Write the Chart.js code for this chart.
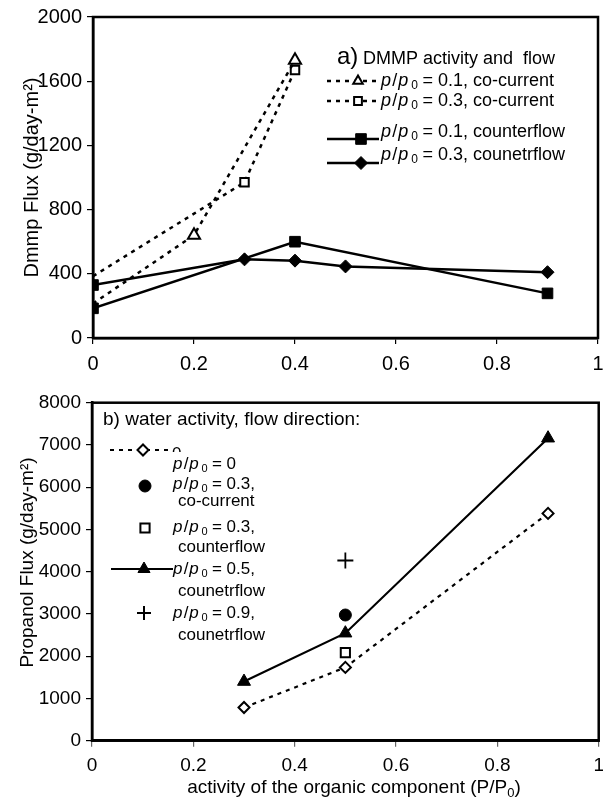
<!DOCTYPE html>
<html>
<head>
<meta charset="utf-8">
<title>DMMP and propanol flux</title>
<script src="https://cdn.jsdelivr.net/npm/chart.js@4.4.1/dist/chart.umd.min.js"></script>
<style>
  html, body { margin: 0; padding: 0; background: #fff; overflow: hidden; }
  #page { position: relative; width: 603px; height: 800px; overflow: hidden; background: #fff; }
  #panelA { position: absolute; left: 0; top: 0; }
  #panelB { position: absolute; left: 0; top: 380px; }
</style>
</head>
<body>
<div id="page">
  <canvas id="panelA" width="612" height="380"></canvas>
  <canvas id="panelB" width="612" height="420"></canvas>
</div>
<script>
const FONT = '"Liberation Sans", Arial, Helvetica, sans-serif';

// shared x axis: activity of the organic component
const activityTicks = [0, 0.2, 0.4, 0.6, 0.8, 1];

// a) DMMP flux
const dmmpTicks = [0, 400, 800, 1200, 1600, 2000];
const dmmpCo01X = [0, 0.2, 0.4];
const dmmpCo01Y = [215, 640, 1730];
const dmmpCo03X = [0, 0.3, 0.4];
const dmmpCo03Y = [385, 970, 1670];
const dmmpCf01X = [0, 0.4, 0.9];
const dmmpCf01Y = [185, 600, 278];
const dmmpCf03X = [0, 0.3, 0.4, 0.5, 0.9];
const dmmpCf03Y = [330, 490, 482, 446, 410];
const dmmpLabels = ['= 0.1, co-current', '= 0.3, co-current', '= 0.1, counterflow', '= 0.3, counetrflow'];

// b) propanol flux
const propTicks = [0, 1000, 2000, 3000, 4000, 5000, 6000, 7000, 8000];
const propW0X = [0.3, 0.5, 0.9];
const propW0Y = [785, 1735, 5380];
const propCo03X = [0.5];
const propCo03Y = [2975];
const propCf03X = [0.5];
const propCf03Y = [2085];
const propCf05X = [0.3, 0.5, 0.9];
const propCf05Y = [1400, 2545, 7160];
const propCf09X = [0.5];
const propCf09Y = [4265];
const propLabels = [['= 0'], ['= 0.3,', 'co-current'], ['= 0.3,', 'counterflow'], ['= 0.5,', 'counetrflow'], ['= 0.9,', 'counetrflow']];

const pts = (xs, ys) => xs.map((x, i) => ({ x: x, y: ys[i] }));
const fixedTicks = vals => scale => { scale.ticks = vals.map(v => ({ value: v })); };

Chart.defaults.font.family = FONT;
Chart.defaults.color = '#000';

// --- drawing helpers for the hand-made legends ---
function marker(ctx, style, r, x, y, fill, bw) {
  ctx.save();
  ctx.setLineDash([]);
  ctx.fillStyle = fill;
  ctx.strokeStyle = '#000';
  ctx.lineWidth = bw;
  Chart.helpers.drawPoint(ctx, { pointStyle: style, radius: r, borderWidth: bw, rotation: 0 }, x, y);
  ctx.restore();
}

function sample(ctx, x1, x2, y, dashed, lw) {
  ctx.save();
  ctx.strokeStyle = '#000';
  ctx.lineWidth = lw;
  ctx.setLineDash(dashed ? [4, 5] : []);
  ctx.beginPath();
  ctx.moveTo(x1, y);
  ctx.lineTo(x2, y);
  ctx.stroke();
  ctx.restore();
}

// "p / p0" with italic p's and a subscript zero, then the rest of the label
function ppText(ctx, x, y, rest, size) {
  const it = 'italic ' + size + 'px ' + FONT;
  const up = size + 'px ' + FONT;
  const sub = Math.round(size * 0.65) + 'px ' + FONT;
  ctx.save();
  ctx.fillStyle = '#000';
  ctx.textAlign = 'left';
  ctx.textBaseline = 'middle';
  ctx.font = it; ctx.fillText('p', x, y); x += ctx.measureText('p').width + size * 0.07;
  ctx.font = up; ctx.fillText('/', x, y); x += ctx.measureText('/').width + size * 0.05;
  ctx.font = it; ctx.fillText('p', x, y); x += ctx.measureText('p').width + size * 0.17;
  ctx.font = sub; ctx.fillText('0', x, y + size * 0.28); x += ctx.measureText('0').width + size * 0.25;
  ctx.font = up; ctx.fillText(rest, x, y);
  ctx.restore();
}

const frame = {
  id: 'frame',
  afterDatasetsDraw(chart, args, opts) {
    const a = chart.chartArea, ctx = chart.ctx;
    ctx.save();
    ctx.strokeStyle = '#000';
    ctx.lineWidth = opts.width || 2.5;
    ctx.strokeRect(a.left, a.top, a.right - a.left, a.bottom - a.top);
    ctx.restore();
  }
};

function axisScales(xTickVals, yTickVals, yMax, yWidth, xHeight, tickSize, yTitle, yTitlePad, xTickColor) {
  return {
    x: {
      type: 'linear', min: 0, max: 1,
      afterBuildTicks: fixedTicks(xTickVals),
      afterFit: s => { s.height = xHeight; },
      ticks: { font: { size: tickSize }, color: '#000', padding: 8, maxRotation: 0, autoSkip: false,
               callback: v => String(v) },
      grid: { drawOnChartArea: false, drawTicks: true, tickLength: 6, color: xTickColor, lineWidth: 1.2 },
      border: { display: true, color: '#000', width: 2.5 }
    },
    y: {
      type: 'linear', min: 0, max: yMax,
      afterBuildTicks: fixedTicks(yTickVals),
      afterFit: s => { s.width = yWidth; },
      ticks: { font: { size: tickSize }, color: '#000', padding: 5, autoSkip: false,
               callback: v => String(v) },
      grid: { drawOnChartArea: false, drawTicks: true, tickLength: 6, color: '#000', lineWidth: 1.2 },
      border: { display: true, color: '#000', width: 2.5 },
      title: { display: !!yTitle, text: yTitle, font: { size: tickSize }, color: '#000',
               padding: { top: yTitlePad, bottom: 0 } }
    }
  };
}

const baseOptions = {
  responsive: false,
  animation: false,
  devicePixelRatio: 1,
  events: [],
  plugins: { legend: { display: false }, tooltip: { enabled: false } }
};

// ---------- a) DMMP activity and flow ----------
const legendA = {
  id: 'legendA',
  afterDraw(chart) {
    const ctx = chart.ctx;
    ctx.save();
    ctx.fillStyle = '#000';
    ctx.textAlign = 'left';
    ctx.textBaseline = 'alphabetic';
    ctx.font = '24px ' + FONT;
    ctx.fillText('a)', 337, 64);
    ctx.font = '18px ' + FONT;
    ctx.fillText('DMMP activity and  flow', 363, 64);
    ctx.restore();

    const rows = [
      { lineY: 81, textY: 81, dashed: true, style: 'triangle', fill: '#fff', r: 5.5, bw: 2 },
      { lineY: 101, textY: 101, dashed: true, style: 'rect', fill: '#fff', r: 5.5, bw: 2 },
      { lineY: 139, textY: 132, dashed: false, style: 'rect', fill: '#000', r: 7.5, bw: 1 },
      { lineY: 163, textY: 155, dashed: false, style: 'rectRot', fill: '#000', r: 6.5, bw: 1 }
    ];
    rows.forEach((row, i) => {
      sample(ctx, 327, 379, row.lineY, row.dashed, 2.5);
      marker(ctx, row.style, row.r, row.dashed ? 358 : 361, row.lineY, row.fill, row.bw);
      ppText(ctx, 381, row.textY, dmmpLabels[i], 18);
    });
  }
};

new Chart(document.getElementById('panelA'), {
  type: 'scatter',
  data: {
    datasets: [
      { data: pts(dmmpCo01X, dmmpCo01Y), showLine: true, borderColor: '#000', borderWidth: 2.5,
        borderDash: [4, 5], pointStyle: 'triangle', pointRadius: [0, 7, 7],
        pointBackgroundColor: '#fff', pointBorderColor: '#000', pointBorderWidth: 2 },
      { data: pts(dmmpCo03X, dmmpCo03Y), showLine: true, borderColor: '#000', borderWidth: 2.5,
        borderDash: [4, 5], pointStyle: 'rect', pointRadius: [0, 6, 6],
        pointBackgroundColor: '#fff', pointBorderColor: '#000', pointBorderWidth: 2 },
      { data: pts(dmmpCf01X, dmmpCf01Y), showLine: true, borderColor: '#000', borderWidth: 2.5,
        pointStyle: 'rect', pointRadius: 7.5,
        pointBackgroundColor: '#000', pointBorderColor: '#000', pointBorderWidth: 1 },
      { data: pts(dmmpCf03X, dmmpCf03Y), showLine: true, borderColor: '#000', borderWidth: 2.5,
        pointStyle: ['rect', 'rectRot', 'rectRot', 'rectRot', 'rectRot'], pointRadius: [7.5, 6.5, 6.5, 6.5, 6.5],
        pointBackgroundColor: '#000', pointBorderColor: '#000', pointBorderWidth: 1 }
    ]
  },
  options: Object.assign({}, baseOptions, {
    layout: { padding: { top: 17, right: 14, left: 0, bottom: 0 } },
    scales: axisScales(activityTicks, dmmpTicks, 2000, 93, 42, 20, 'Dmmp Flux (g/day-m\u00b2)', 20, '#000'),
    plugins: Object.assign({}, baseOptions.plugins, { frame: { width: 2.5 } })
  }),
  plugins: [frame, legendA]
});

// ---------- b) water activity, flow direction ----------
const legendB = {
  id: 'legendB',
  afterDraw(chart) {
    const ctx = chart.ctx;
    ctx.save();
    ctx.fillStyle = '#000';
    ctx.textAlign = 'left';
    ctx.textBaseline = 'middle';
    ctx.font = '19px ' + FONT;
    ctx.fillText('b) water activity, flow direction:', 103, 40);

    // stray "0" of the first entry, cut off by the row beneath it
    ctx.save();
    ctx.beginPath();
    ctx.rect(160, 60, 40, 12);
    ctx.clip();
    ctx.font = '17px ' + FONT;
    ctx.textBaseline = 'top';
    ctx.fillText('0', 172, 66);
    ctx.restore();

    // y axis title, set a little above the axis centre
    ctx.save();
    ctx.translate(28, 182.5);
    ctx.rotate(-Math.PI / 2);
    ctx.textAlign = 'center';
    ctx.font = '19px ' + FONT;
    ctx.fillText('Propanol Flux (g/day-m\u00b2)', 0, 0);
    ctx.restore();

    // x axis title with subscript
    const y = 408;
    const main = 'activity of the organic component (P/P';
    ctx.font = '19px ' + FONT;
    const wMain = ctx.measureText(main).width;
    ctx.font = '13px ' + FONT;
    const wSub = ctx.measureText('0').width;
    ctx.font = '19px ' + FONT;
    const wEnd = ctx.measureText(')').width;
    let x = 354 - (wMain + wSub + wEnd) / 2;
    ctx.fillText(main, x, y); x += wMain;
    ctx.font = '13px ' + FONT; ctx.fillText('0', x, y + 5); x += wSub;
    ctx.font = '19px ' + FONT; ctx.fillText(')', x, y);
    ctx.restore();

    sample(ctx, 110, 173, 70, true, 2.2);
    marker(ctx, 'rectRot', 5.5, 143, 70, '#fff', 2);
    marker(ctx, 'circle', 6, 145, 106, '#000', 1);
    marker(ctx, 'rect', 6.5, 145, 148, '#fff', 2);
    sample(ctx, 111, 173, 189, false, 2.2);
    marker(ctx, 'triangle', 7, 144, 189, '#000', 1);
    marker(ctx, 'cross', 7, 144, 233, '#000', 2);

    const rowY = [[84], [104, 121], [147, 167], [189, 211], [233, 255]];
    propLabels.forEach((lines, i) => {
      ppText(ctx, 173, rowY[i][0], lines[0], 17);
      if (lines[1]) {
        ctx.save();
        ctx.fillStyle = '#000';
        ctx.textBaseline = 'middle';
        ctx.font = '17px ' + FONT;
        ctx.fillText(lines[1], 178, rowY[i][1]);
        ctx.restore();
      }
    });
  }
};

new Chart(document.getElementById('panelB'), {
  type: 'scatter',
  data: {
    datasets: [
      { data: pts(propW0X, propW0Y), showLine: true, borderColor: '#000', borderWidth: 2.2,
        borderDash: [4, 5], pointStyle: 'rectRot', pointRadius: 5.5,
        pointBackgroundColor: '#fff', pointBorderColor: '#000', pointBorderWidth: 2 },
      { data: pts(propCf05X, propCf05Y), showLine: true, borderColor: '#000', borderWidth: 2.2,
        pointStyle: 'triangle', pointRadius: 7.5,
        pointBackgroundColor: '#000', pointBorderColor: '#000', pointBorderWidth: 1 },
      { data: pts(propCo03X, propCo03Y), showLine: false, pointStyle: 'circle', pointRadius: 6,
        pointBackgroundColor: '#000', pointBorderColor: '#000', pointBorderWidth: 1 },
      { data: pts(propCf03X, propCf03Y), showLine: false, pointStyle: 'rect', pointRadius: 6.5,
        pointBackgroundColor: '#fff', pointBorderColor: '#000', pointBorderWidth: 2 },
      { data: pts(propCf09X, propCf09Y), showLine: false, pointStyle: 'cross', pointRadius: 8,
        pointBackgroundColor: '#000', pointBorderColor: '#000', pointBorderWidth: 1.8 }
    ]
  },
  options: Object.assign({}, baseOptions, {
    layout: { padding: { top: 22.7, right: 7, left: 0, bottom: 0 } },
    scales: axisScales(activityTicks, propTicks, 8000, 92, 59.3, 19, '', 15, '#666'),
    plugins: Object.assign({}, baseOptions.plugins, { frame: { width: 2.5 } })
  }),
  plugins: [frame, legendB]
});
</script>
</body>
</html>
